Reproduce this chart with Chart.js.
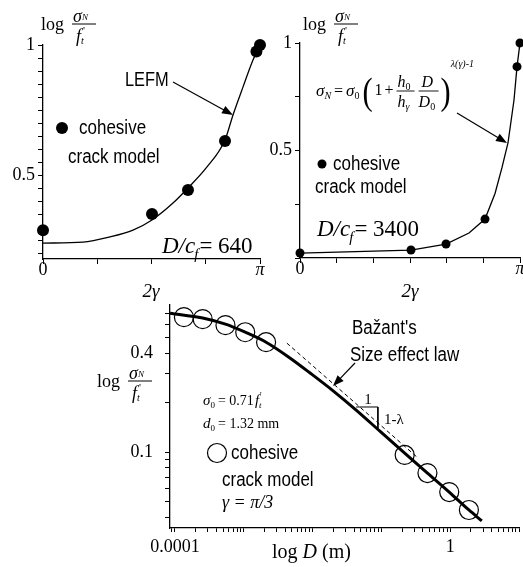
<!DOCTYPE html>
<html><head><meta charset="utf-8">
<script src="https://cdn.jsdelivr.net/npm/chart.js@4/dist/chart.umd.min.js"></script>
<style>
html,body{margin:0;padding:0;background:#fff;}
#wrap{position:relative;width:523px;height:567px;background:#fff;}
canvas{position:absolute;left:0;top:0;}
</style>
</head><body>
<div id="wrap">
<canvas id="c1" width="523" height="567"></canvas>
<canvas id="c2" width="523" height="567"></canvas>
<canvas id="c3" width="523" height="567"></canvas>
</div>
<script>
const PI = Math.PI;

// ---- Panel A : D/cf = 640 (x = 2*gamma, rad ; y = log sigmaN/f't) ----
const aDotX  = [0, 1.578, 2.099, 2.635, 3.09, 3.1416];
const aDotY  = [0.288, 0.35, 0.442, 0.631, 0.975, 1.0];
const aLefmX = [0, 0.579, 0.970, 1.303, 1.578, 1.882, 2.099, 2.374, 2.635, 2.751, 2.895, 3.040, 3.1416];
const aLefmY = [0.238, 0.242, 0.262, 0.288, 0.327, 0.392, 0.45, 0.531, 0.635, 0.731, 0.838, 0.942, 1.0];

// ---- Panel B : D/cf = 3400 ----
const bDotX = [0, 1.585, 2.085, 2.642, 3.099, 3.1416];
const bDotY = [0.023, 0.037, 0.065, 0.181, 0.89, 1.0];
const bLawX = [0, 1.585, 2.085, 2.413, 2.642, 2.785, 2.884, 2.970, 3.056, 3.099, 3.1416];
const bLawY = [0.023, 0.037, 0.065, 0.116, 0.181, 0.30, 0.42, 0.535, 0.735, 0.89, 1.0];

// ---- Panel C : size effect, gamma = pi/3 ----
const cCohD = [0.000135, 0.000253, 0.000542, 0.00105, 0.00211, 0.218, 0.467, 0.968, 1.87];
const cCohS = [0.662, 0.644, 0.592, 0.536, 0.466, 0.096, 0.0745, 0.0571, 0.0444];
const cLawD = [0.0000848, 0.000253, 0.000542, 0.00105, 0.00211, 0.00452, 0.00968, 0.0201, 0.043, 0.0951, 0.218, 0.467, 0.968, 1.87, 2.88];
const cLawS = [0.700, 0.654, 0.600, 0.536, 0.466, 0.378, 0.298, 0.235, 0.180, 0.134, 0.0986, 0.0745, 0.0571, 0.0444, 0.0381];
const cAsymD = [0.00423, 0.335];
const cAsymS = [0.460, 0.0926];
const cSlopeD = [0.043, 0.089, 0.089];
const cSlopeS = [0.188, 0.188, 0.140];

// ---- tick values and labels ----
const aYTickVals = [0.2,0.25,0.3,0.35,0.4,0.45,0.5,0.55,0.6,0.65,0.7,0.75,0.8,0.85,0.9,0.95,1];
const aYTickText = ['','','','','','','0.5','','','','','','','','','','1'];
const aXTickVals = [0, PI/4, PI/2, 3*PI/4, PI];
const aXTickText = ['0','','','','π'];
const bYTickVals = [0, 0.25, 0.5, 0.75, 1];
const bYTickText = ['','','0.5','','1'];
const bXTickVals = [0, PI/6, PI/3, PI/2, 2*PI/3, 5*PI/6, PI];
const bXTickText = ['0','','','','','','π'];
const cXLabelVals = [0.0001, 1];
const cXLabelText = ['0.0001', '1'];
const cYLabelVals = [0.1, 0.4];
const cYLabelText = ['0.1', '0.4'];

function pts(xs, ys){ return xs.map((x,i)=>({x:x, y:ys[i]})); }
function logTicks(min, max){
  const out=[];
  for(let e=-5;e<=1;e++){ for(let m=1;m<=9;m++){ const v=+(m*Math.pow(10,e)).toPrecision(6); if(v>=min*0.999 && v<=max*1.001) out.push(v);} }
  return out;
}
function lookup(v, vals, text){
  for(let i=0;i<vals.length;i++){ if(Math.abs(v-vals[i]) <= Math.abs(vals[i])*1e-6+1e-9) return text[i]; }
  return '';
}

const SERIF = '"Liberation Serif"';
const SANS = '"Liberation Sans"';

function axis(extra){
  const base = {
    border:{display:true,color:'#000',width:1.3},
    grid:{display:true,drawOnChartArea:false,drawTicks:true,tickLength:5,color:'#000',lineWidth:1},
    ticks:{color:'#000',font:{family:SERIF,size:18},autoSkip:false,maxRotation:0,padding:3}
  };
  const o = Object.assign({}, base, extra);
  o.ticks = Object.assign({}, base.ticks, extra.ticks||{});
  return o;
}

// ---- drawing helpers for annotation text ----
function sans(ctx, s, x, y, size, sx){
  ctx.save(); ctx.font = size+'px '+SANS; ctx.textBaseline='middle'; ctx.textAlign='left';
  ctx.translate(x,y); ctx.scale(sx||0.85,1); ctx.fillText(s,0,0); ctx.restore();
}
function serif(ctx, s, x, y, size, italic, align){
  ctx.save(); ctx.font=(italic?'italic ':'')+size+'px '+SERIF; ctx.textBaseline='alphabetic';
  ctx.textAlign=align||'left'; ctx.fillText(s,x,y); const w=ctx.measureText(s).width; ctx.restore(); return w;
}
function arrow(ctx, x1,y1,x2,y2, head){
  head = head||10;
  const a=Math.atan2(y2-y1,x2-x1);
  ctx.save(); ctx.strokeStyle='#000'; ctx.fillStyle='#000'; ctx.lineWidth=1.2;
  ctx.beginPath(); ctx.moveTo(x1,y1); ctx.lineTo(x2-Math.cos(a)*head*0.8,y2-Math.sin(a)*head*0.8); ctx.stroke();
  ctx.beginPath(); ctx.moveTo(x2,y2);
  ctx.lineTo(x2-head*Math.cos(a)+head*0.38*Math.sin(a), y2-head*Math.sin(a)-head*0.38*Math.cos(a));
  ctx.lineTo(x2-head*Math.cos(a)-head*0.38*Math.sin(a), y2-head*Math.sin(a)+head*0.38*Math.cos(a));
  ctx.closePath(); ctx.fill(); ctx.restore();
}
function logFrac(ctx, x, base, fs){
  const w = serif(ctx,'log',x,base,fs,false);
  const fx = x + w + 8, barY = base - 6;
  const sw = serif(ctx,'σ',fx+1,barY-2,fs,true);
  serif(ctx,'N',fx+1+sw,barY-4,Math.round(fs*0.5),true);
  ctx.save(); ctx.strokeStyle='#000'; ctx.lineWidth=1; ctx.beginPath(); ctx.moveTo(fx,barY); ctx.lineTo(fx+24,barY); ctx.stroke(); ctx.restore();
  const fw = serif(ctx,'f',fx+4,barY+18,fs,true);
  serif(ctx,"'",fx+6+fw,barY+10,Math.round(fs*0.6),false);
  serif(ctx,'t',fx+4+fw,barY+20,Math.round(fs*0.55),true);
}
function dcf(ctx, x, base, num){
  let w = serif(ctx,'D/c',x,base,23,true);
  const fw = serif(ctx,'f',x+w-1,base+6,15,true);
  serif(ctx,'= '+num,x+w+fw,base,23,false);
}
function dot(ctx,x,y,r){ ctx.save(); ctx.fillStyle='#000'; ctx.beginPath(); ctx.arc(x,y,r,0,2*PI); ctx.fill(); ctx.restore(); }
function ring(ctx,x,y,r){ ctx.save(); ctx.strokeStyle='#000'; ctx.lineWidth=1.2; ctx.beginPath(); ctx.arc(x,y,r,0,2*PI); ctx.stroke(); ctx.restore(); }

function formula(ctx, x, y){
  let cx = x;
  cx += serif(ctx,'σ',cx,y,17,true);
  cx += serif(ctx,'N',cx,y+3,10,true) + 3;
  cx += serif(ctx,'=',cx,y,16,false) + 3;
  cx += serif(ctx,'σ',cx,y,17,true);
  cx += serif(ctx,'0',cx,y+3,10,false) + 3;
  ctx.save(); ctx.translate(cx,y+8); ctx.scale(0.8,1); ctx.font='38px '+SERIF; ctx.fillText('(',0,0); const pw=ctx.measureText('(').width*0.8; ctx.restore();
  cx += pw + 2;
  cx += serif(ctx,'1',cx,y-1,16,false) + 2;
  cx += serif(ctx,'+',cx,y-1,16,false) + 3;
  let hw = serif(ctx,'h',cx+1,y-9,16,true); serif(ctx,'0',cx+1+hw,y-6,10,false);
  hw = serif(ctx,'h',cx+1,y+11,16,true); serif(ctx,'γ',cx+1+hw,y+14,10,true);
  ctx.save(); ctx.lineWidth=0.9; ctx.beginPath(); ctx.moveTo(cx,y-5); ctx.lineTo(cx+18,y-5); ctx.stroke(); ctx.restore();
  cx += 22;
  let dw = serif(ctx,'D',cx+3,y-9,16,true);
  dw = serif(ctx,'D',cx,y+11,16,true); serif(ctx,'0',cx+dw,y+14,10,false);
  ctx.save(); ctx.lineWidth=0.9; ctx.beginPath(); ctx.moveTo(cx,y-5); ctx.lineTo(cx+20,y-5); ctx.stroke(); ctx.restore();
  cx += 22;
  ctx.save(); ctx.translate(cx,y+8); ctx.scale(0.8,1); ctx.font='38px '+SERIF; ctx.fillText(')',0,0); ctx.restore();
  cx += pw + 1;
  serif(ctx,'λ(γ)-1',cx-1,y-29,10,true);
}

function makeChart(id, area, xAxis, yAxis, datasets, extras, yW, xH){
  yW = yW||40; xH = xH||32;
  xAxis.afterFit = s => { s.height = xH; };
  yAxis.afterFit = s => { s.width = yW; };
  return new Chart(document.getElementById(id), {
    type:'scatter',
    data:{datasets:datasets},
    options:{
      responsive:false, animation:false, devicePixelRatio:1,
      layout:{autoPadding:false, padding:{left:area.l-yW, top:area.t, right:523-area.r, bottom:567-area.b-xH}},
      plugins:{legend:{display:false}, tooltip:{enabled:false}},
      scales:{x:xAxis, y:yAxis}
    },
    plugins:[{id:'extras'+id, afterDraw: c => { const ctx=c.ctx; ctx.save(); ctx.fillStyle='#000'; ctx.strokeStyle='#000'; extras(ctx,c); ctx.restore(); }}]
  });
}

function italicLast(n){ return ctx => ({family:SERIF, size:18, style: (ctx.index===n-1)?'italic':'normal'}); }

// ---------------- Chart A ----------------
makeChart('c1', {l:43,t:45,r:260,b:259},
  axis({type:'linear',min:0,max:PI,
    afterBuildTicks: s => { s.ticks = aXTickVals.map(v=>({value:v})); },
    ticks:{callback: v => lookup(v,aXTickVals,aXTickText), font: italicLast(aXTickVals.length), padding:-5}}),
  axis({type:'linear',min:0.177,max:1,
    afterBuildTicks: s => { s.ticks = aYTickVals.map(v=>({value:v})); },
    ticks:{callback: v => lookup(v,aYTickVals,aYTickText)}}),
  [
    {data:pts(aDotX,aDotY), showLine:false, pointRadius:6, pointBackgroundColor:'#000', pointBorderColor:'#000', pointBorderWidth:0, clip:false, order:0},
    {data:pts(aLefmX,aLefmY), showLine:true, borderColor:'#000', borderWidth:1.3, pointRadius:0, cubicInterpolationMode:'monotone', clip:false, order:1}
  ],
  ctx => {
    logFrac(ctx, 41, 30, 18);
    sans(ctx,'LEFM',125,80,20,0.82);
    arrow(ctx,173,82,233,115,11);
    dot(ctx,62,128,6);
    sans(ctx,'cohesive',79,128,20,0.85);
    sans(ctx,'crack model',68,157,20,0.85);
    dcf(ctx,162,253,'640');
    serif(ctx,'2γ',151,297,19,true,'center');
  });

// ---------------- Chart B ----------------
makeChart('c2', {l:300,t:43,r:520,b:258},
  axis({type:'linear',min:0,max:PI,
    afterBuildTicks: s => { s.ticks = bXTickVals.map(v=>({value:v})); },
    ticks:{callback: v => lookup(v,bXTickVals,bXTickText), font: italicLast(bXTickVals.length), padding:-5}}),
  axis({type:'linear',min:0,max:1,
    afterBuildTicks: s => { s.ticks = bYTickVals.map(v=>({value:v})); },
    ticks:{callback: v => lookup(v,bYTickVals,bYTickText)}}),
  [
    {data:pts(bDotX,bDotY), showLine:false, pointRadius:4.5, pointBackgroundColor:'#000', pointBorderColor:'#000', pointBorderWidth:0, clip:false, order:0},
    {data:pts(bLawX,bLawY), showLine:true, borderColor:'#000', borderWidth:1.3, pointRadius:0, tension:0, clip:false, order:1}
  ],
  ctx => {
    logFrac(ctx, 303, 30, 18);
    formula(ctx, 316, 96);
    arrow(ctx,457,113,507,143,11);
    dot(ctx,322,164,4.5);
    sans(ctx,'cohesive',333,164,20,0.85);
    sans(ctx,'crack model',315,187,20,0.85);
    dcf(ctx,317,236,'3400');
    serif(ctx,'2γ',410,297,19,true,'center');
  });

// ---------------- Chart C ----------------
const cXMin = 0.0000847, cXMax = 10, cYMin = 0.0345, cYMax = 0.785;
makeChart('c3', {l:170,t:305,r:522,b:528},
  axis({type:'logarithmic',min:cXMin,max:cXMax,
    afterBuildTicks: s => { s.ticks = logTicks(cXMin,cXMax).map(v=>({value:v})); },
    grid:{display:true,drawOnChartArea:false,drawTicks:true,tickLength:4,color:'#000',lineWidth:1},
    ticks:{callback: v => lookup(v,cXLabelVals,cXLabelText), padding:4}}),
  axis({type:'logarithmic',min:cYMin,max:cYMax,
    afterBuildTicks: s => { s.ticks = logTicks(cYMin,cYMax).map(v=>({value:v})); },
    grid:{display:true,drawOnChartArea:false,drawTicks:true,tickLength:5,color:'#000',lineWidth:1},
    ticks:{callback: v => lookup(v,cYLabelVals,cYLabelText), padding:12}}),
  [
    {data:pts(cCohD,cCohS), showLine:false, pointRadius:9.5, pointBackgroundColor:'rgba(0,0,0,0)', pointBorderColor:'#000', pointBorderWidth:1.2, clip:false, order:0},
    {data:pts(cLawD,cLawS), showLine:true, borderColor:'#000', borderWidth:3, pointRadius:0, cubicInterpolationMode:'monotone', clip:false, order:1},
    {data:pts(cAsymD,cAsymS), showLine:true, borderColor:'#000', borderWidth:1, borderDash:[4,3], pointRadius:0, clip:false, order:2},
    {data:pts(cSlopeD,cSlopeS), showLine:true, borderColor:'#000', borderWidth:1, pointRadius:0, tension:0, clip:false, order:2}
  ],
  ctx => {
    logFrac(ctx, 97, 387, 18);
    let w = serif(ctx,'σ',203,405,15,true); w += serif(ctx,'0',203+w,408,9,false);
    serif(ctx,"= 0.71 ",203+w+3,405,14,false);
    serif(ctx,'f',255,405,15,true); serif(ctx,"'",260,398,9,false); serif(ctx,'t',259,408,9,true);
    w = serif(ctx,'d',203,428,15,true); w += serif(ctx,'0',203+w,431,9,false);
    serif(ctx,'= 1.32 mm',203+w+3,428,14,false);
    ring(ctx,217,453,9.5);
    sans(ctx,'cohesive',231,453,20,0.85);
    sans(ctx,'crack model',222,480,20,0.85);
    serif(ctx,'γ = π/3',222,508,18,true);
    sans(ctx,"Bažant's",352,328,20,0.85);
    sans(ctx,'Size effect law',350,355,20,0.85);
    arrow(ctx,355,363,333,386,11);
    serif(ctx,'1',368,404,15,false,'center');
    serif(ctx,'1-λ',384,424,15,false);
    let lw = serif(ctx,'log ',272,558,20,false);
    lw += serif(ctx,'D',272+lw,558,20,true);
    serif(ctx,' (m)',272+lw,558,20,false);
  }, 40, 30);
</script>
</body></html>
